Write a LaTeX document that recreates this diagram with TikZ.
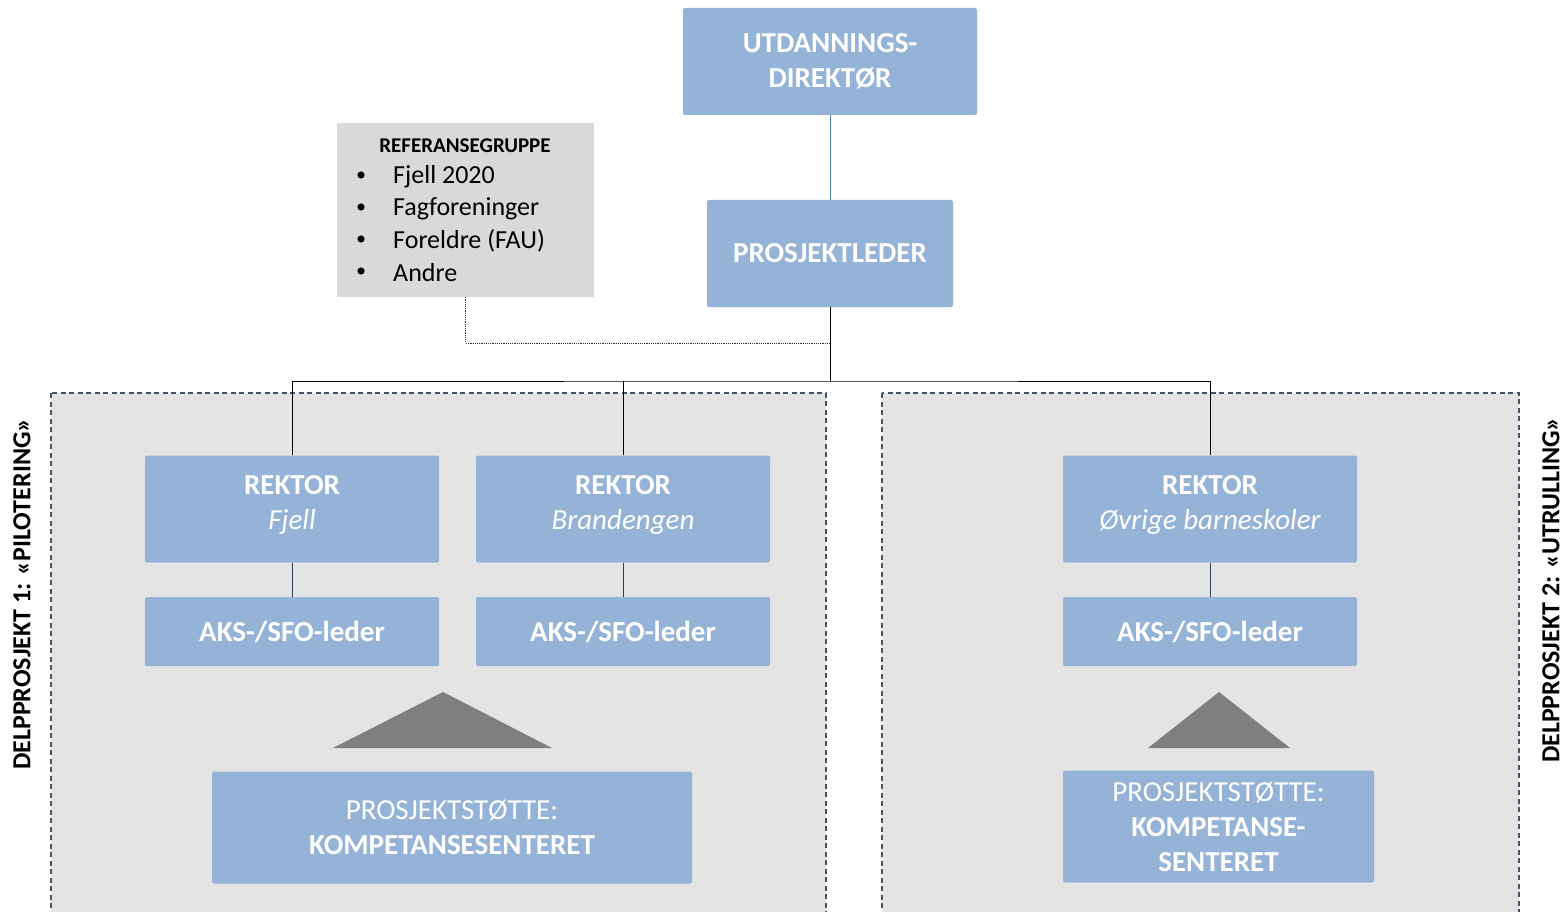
\documentclass[tikz,border=0pt]{standalone}
\usepackage{fontspec}
\setmainfont{Carlito}
\definecolor{boxblue}{HTML}{95B3D7}
\definecolor{regiongray}{HTML}{E4E4E4}
\definecolor{refgray}{HTML}{D9D9D9}
\definecolor{borderblue}{HTML}{44546A}
\definecolor{linkblue}{HTML}{4F81BD}
\definecolor{navy}{HTML}{2B3F5C}
\definecolor{trigray}{HTML}{7F7F7F}
\tikzset{
  box/.style={fill=boxblue, draw=none, rounded corners=2pt, text=white,
    font=\fontsize{29}{35}\selectfont\bfseries, align=center, inner sep=0pt},
  rektorbox/.style={box, minimum width=294, minimum height=107, text depth=13pt},
  region/.style={fill=regiongray, draw=borderblue, line width=1.2pt, dash pattern=on 5pt off 3.5pt},
  conn/.style={draw=black, line width=1pt},
  reflink/.style={draw=black!80, line width=0.8pt, dash pattern=on 1.2pt off 1pt},
  sidelabel/.style={rotate=90, font=\fontsize{26}{30}\selectfont\bfseries, inner sep=0pt},
  reftext/.style={anchor=west, font=\fontsize{26}{30}\selectfont, inner sep=0pt},
}
\begin{document}
\begin{tikzpicture}[x=1pt,y=-1pt]
\useasboundingbox (0,0) rectangle (1567,912);
% regions
\path[region] (51,393) rectangle (826,930);
\path[region] (882,393) rectangle (1519,930);
% side labels
\node[sidelabel] (lab1) at (22,594) {DELPPROSJEKT 1: «PILOTERING»};
\node[sidelabel] (lab2) at (1551,590) {DELPPROSJEKT 2: «UTRULLING»};
% top boxes
\node[box, minimum width=294, minimum height=107] (dir) at (830,61.5) {UTDANNINGS-\\DIREKTØR};
\node[box, minimum width=246, minimum height=107] (pl) at (830,253.5) {PROSJEKTLEDER};
% reference group
\node[fill=refgray, minimum width=257, minimum height=174, inner sep=0pt] (ref) at (465.5,210) {};
\node[font=\fontsize{21}{25}\selectfont\bfseries, inner sep=0pt] (refhead) at (465,146) {REFERANSEGRUPPE};
\node[reftext] (b1) at (393,177) {Fjell 2020};
\node[reftext] (b2) at (393,209) {Fagforeninger};
\node[reftext] (b3) at (393,241) {Foreldre (FAU)};
\node[reftext] (b4) at (393,273) {Andre};
\foreach \y/\n in {175/d1,207/d2,239/d3,271/d4}{
  \fill (361,\y) circle (3.6pt) coordinate (\n);
}
% rektor boxes
\node[rektorbox] (r1) at (292,509) {REKTOR\\\mdseries\itshape Fjell};
\node[rektorbox] (r2) at (623,509) {REKTOR\\\mdseries\itshape Brandengen};
\node[rektorbox] (r3) at (1210,509) {REKTOR\\\mdseries\itshape Øvrige barneskoler};
% AKS boxes
\node[box, minimum width=294, minimum height=69] (a1) at (292,631.5) {AKS-/SFO-leder};
\node[box, minimum width=294, minimum height=69] (a2) at (623,631.5) {AKS-/SFO-leder};
\node[box, minimum width=294, minimum height=69] (a3) at (1210,631.5) {AKS-/SFO-leder};
% support boxes
\node[box, minimum width=480, minimum height=112] (s1) at (452,827.5) {\mdseries PROSJEKTSTØTTE:\\KOMPETANSESENTERET};
\node[box, minimum width=311, minimum height=112] (s2) at (1218.5,826.5) {\mdseries PROSJEKTSTØTTE:\\KOMPETANSE-\\SENTERET};
% triangles
\fill[trigray] (443,692) -- (552,748) -- (333,748) -- cycle;
\fill[trigray] (1219,692) -- (1290,748) -- (1148,748) -- cycle;
% connectors
\coordinate (j) at (830,381);
\coordinate (dj) at (830,343);
\draw[draw=linkblue, line width=1pt] (dir.south) -- (pl.north);
\draw[conn] (pl.south) -- (j);
\draw[conn] (r1.north) |- (j) -| (r3.north);
\draw[conn] (r2.north) -- (r2.north |- j);
\draw[reflink] (ref.south) |- (dj);
\draw[draw=navy, line width=1pt] (r1.south) -- (a1.north);
\draw[draw=navy, line width=1pt] (r2.south) -- (a2.north);
\draw[draw=navy, line width=1pt] (r3.south) -- (a3.north);
\end{tikzpicture}
\end{document}
